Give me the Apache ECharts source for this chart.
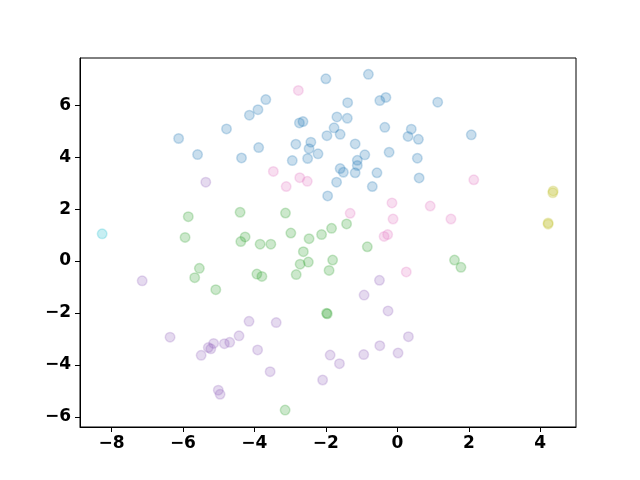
<!DOCTYPE html>
<html>
<head>
<meta charset="utf-8">
<script src="https://cdn.jsdelivr.net/npm/echarts@6/dist/echarts.min.js"></script>
<style>html,body{margin:0;padding:0;background:#fff}#c{width:640px;height:480px}</style>
</head>
<body>
<div id="c"></div>
<script>
const blue = [[-2.00,7.02],[-0.81,7.19],[-3.68,6.22],[-3.90,5.83],[-4.14,5.62],[-2.74,5.32],[-2.64,5.37],[-4.78,5.09],[-6.12,4.72],[-1.97,4.83],[-2.42,4.58],[-2.84,4.50],[-2.47,4.33],[-3.88,4.37],[-2.22,4.13],[-5.59,4.10],[-4.36,3.97],[-2.51,3.95],[-2.94,3.87],[-1.95,2.51],[-1.39,6.10],[-0.49,6.18],[-0.32,6.30],[1.13,6.12],[-1.69,5.55],[-1.40,5.50],[-0.35,5.15],[0.39,5.08],[-1.77,5.13],[-1.60,4.88],[0.30,4.80],[0.59,4.69],[2.07,4.86],[-1.18,4.51],[-0.91,4.09],[-0.23,4.19],[-1.12,3.88],[-1.12,3.68],[0.56,3.96],[-1.60,3.56],[-1.51,3.42],[-1.18,3.40],[-0.57,3.40],[-1.70,3.04],[0.61,3.20],[-0.70,2.87]];
const pink = [[-2.77,6.57],[-3.47,3.45],[-2.73,3.21],[-2.52,3.07],[-3.11,2.87],[2.14,3.13],[-0.15,2.24],[0.92,2.12],[-1.32,1.84],[-0.12,1.62],[1.50,1.62],[-0.37,0.95],[-0.27,1.02],[0.25,-0.42]];
const green = [[-5.85,1.71],[-4.40,1.88],[-3.13,1.85],[-5.94,0.91],[-4.26,0.93],[-4.38,0.75],[-3.84,0.65],[-3.54,0.65],[-2.98,1.08],[-2.47,0.86],[-2.12,1.02],[-1.84,1.26],[-1.42,1.43],[-0.84,0.55],[-2.63,0.36],[-2.72,-0.12],[-2.49,-0.04],[-1.81,0.04],[-1.91,-0.36],[-2.83,-0.52],[-3.93,-0.50],[-3.79,-0.59],[-5.54,-0.28],[-5.67,-0.64],[-5.08,-1.10],[-1.98,-2.01],[-1.96,-2.03],[1.60,0.04],[1.78,-0.24],[-3.14,-5.74]];
const purple = [[-5.36,3.04],[-7.14,-0.76],[-4.15,-2.32],[-3.39,-2.37],[-6.36,-2.93],[-4.43,-2.88],[-4.84,-3.18],[-4.69,-3.13],[-5.14,-3.17],[-5.29,-3.33],[-5.22,-3.38],[-5.49,-3.63],[-3.91,-3.42],[-3.56,-4.26],[-5.01,-4.97],[-4.96,-5.13],[-2.09,-4.58],[-1.88,-3.62],[-1.62,-3.95],[-0.94,-3.60],[-0.49,-3.26],[0.02,-3.54],[0.31,-2.91],[-0.26,-1.92],[-0.93,-1.31],[-0.50,-0.74]];
const cyan = [[-8.26,1.05]];
const olive = [[4.36,2.70],[4.35,2.63],[4.22,1.47],[4.22,1.42]];
const xTicks = [-8,-6,-4,-2,0,2,4];
const yTicks = [-6,-4,-2,0,2,4,6];

const fmt = v => (v < 0 ? '\u2212' + Math.abs(v) : String(v));
const labelStyle = {fontFamily:'DejaVu Sans', fontWeight:'bold', fontSize:17, color:'#000', formatter: fmt};
function mk(data, rgb){
  return {type:'scatter', data:data, symbol:'circle', symbolSize:9.5,
    itemStyle:{color:'rgba('+rgb+',0.3)', borderColor:'rgba('+rgb+',0.3)', borderWidth:1.5},
    emphasis:{disabled:true}, animation:false};
}
const chart = echarts.init(document.getElementById('c'), null, {renderer:'canvas'});
chart.setOption({
  animation:false,
  grid:{left:80, right:64, top:58, bottom:53, show:true, borderColor:'#000', borderWidth:1, containLabel:false},
  xAxis:{type:'value', min:-8.88, max:5.0,
    axisLine:{show:true, onZero:false, lineStyle:{color:'#000', width:1}},
    axisTick:{show:true, inside:false, length:5, customValues:xTicks, lineStyle:{color:'#000'}},
    axisLabel:Object.assign({margin:8, customValues:xTicks}, labelStyle),
    splitLine:{show:false}},
  yAxis:{type:'value', min:-6.39, max:7.82,
    axisLine:{show:true, onZero:false, lineStyle:{color:'#000', width:1}},
    axisTick:{show:true, inside:false, length:5, customValues:yTicks, lineStyle:{color:'#000'}},
    axisLabel:Object.assign({margin:9, customValues:yTicks}, labelStyle),
    splitLine:{show:false}},
  series:[mk(blue,'31,119,180'), mk(pink,'227,119,194'), mk(green,'44,160,44'), mk(purple,'148,103,189'), mk(cyan,'23,190,207'), mk(olive,'188,189,34')]
});
</script>
</body>
</html>
